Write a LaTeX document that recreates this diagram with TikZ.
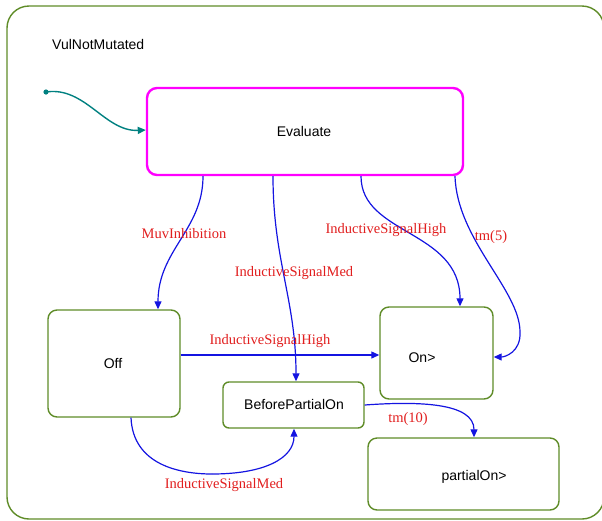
\documentclass[tikz,border=0pt]{standalone}
\usepackage{fontspec}
\setmainfont{Liberation Sans}
\newfontfamily\lblfont{Liberation Serif}
\usetikzlibrary{arrows.meta}
\definecolor{boxgreen}{RGB}{95,140,40}
\definecolor{edgeblue}{RGB}{20,20,225}
\definecolor{lblred}{RGB}{225,30,30}
\definecolor{initteal}{RGB}{0,128,128}
\definecolor{evalmag}{RGB}{255,0,255}
\tikzset{
  statebox/.style={draw=boxgreen, line width=1.4pt, rounded corners=9pt, fill=white, font=\fontsize{14}{16}\selectfont},
  trans/.style={draw=edgeblue, line width=1.2pt, -{Triangle[length=8pt,width=7pt]}},
  lbl/.style={text=lblred, font=\lblfont\fontsize{14.5}{16}\selectfont, inner sep=0pt},
}
\begin{document}
\begin{tikzpicture}[x=1pt,y=-1pt]
\useasboundingbox (0,0) rectangle (602,520);
% outer state
\draw[boxgreen, line width=1.4pt, rounded corners=22pt] (7,6) rectangle (604,519);
\node[font=\fontsize{14}{16}\selectfont, anchor=west, inner sep=0pt] (title) at (52,44) {VulNotMutated};
% states
\node[draw=evalmag, line width=2.4pt, rounded corners=10pt, fill=white, minimum width=316pt, minimum height=87pt, font=\fontsize{14}{16}\selectfont] (eval) at (305,131.5) {};
\node[font=\fontsize{14}{16}\selectfont, inner sep=0pt] (evaltxt) at (304,131) {Evaluate};
\node[statebox, minimum width=132pt, minimum height=107pt] (off) at (114,363.5) {};
\node[font=\fontsize{14}{16}\selectfont, inner sep=0pt] (offtxt) at (113,363) {Off};
\node[statebox, minimum width=113pt, minimum height=92pt] (on) at (436.5,353) {};
\node[font=\fontsize{14}{16}\selectfont, inner sep=0pt] (ontxt) at (422,358) {On>};
\node[statebox, rounded corners=6pt, minimum width=141pt, minimum height=46pt] (bpo) at (293.5,405) {};
\node[font=\fontsize{14}{16}\selectfont, inner sep=0pt] (bpotxt) at (294,404) {BeforePartialOn};
\node[statebox, minimum width=191pt, minimum height=72pt] (pon) at (463.5,474) {};
\node[font=\fontsize{14}{16}\selectfont, inner sep=0pt] (pontxt) at (474,477) {partialOn>};
% initial
\coordinate (init) at (46,92);
\fill[initteal] (init) circle (2.6pt);
\draw[initteal, line width=1.4pt, -{Triangle[length=8pt,width=7pt]}] (init) .. controls (85,86) and (105,132) .. (eval.west |- 0,130);
% transitions
\draw[trans] (eval.south -| 203,0) .. controls (203,230) and (158,250) .. (off.north -| 158,0);
\node[lbl] (l1) at (184,234) {MuvInhibition};
\draw[trans] (eval.south -| 273,0) .. controls (273,260) and (296,300) .. (bpo.north -| 296,0);
\node[lbl] (l2) at (294,273) {InductiveSignalMed};
\draw[trans] (eval.south -| 361,0) .. controls (361,235) and (460,230) .. (on.north -| 460,0);
\node[lbl] (l3) at (386,230) {InductiveSignalHigh};
\coordinate (tmbend) at (520,332);
\draw[trans] (eval.south -| 455,0) .. controls (457,240) and (520,290) .. (tmbend) .. controls (521,352) and (505,357) .. (on.east |- 0,357);
\node[lbl] (l4) at (491,237) {tm(5)};
\draw[trans] (off.east |- 0,355) -- (on.west |- 0,355);
\node[lbl] (l5) at (270,341) {InductiveSignalHigh};
\coordinate (medlow) at (212,474);
\draw[draw=edgeblue, line width=1.2pt] (off.south -| 131,0) .. controls (133,465) and (180,474) .. (medlow);
\draw[trans] (medlow) .. controls (265,474) and (294,458) .. (bpo.south -| 294,0);
\node[lbl] (l6) at (224,485) {InductiveSignalMed};
\draw[trans] (bpo.east |- 0,405) .. controls (420,401) and (474,403) .. (pon.north -| 474,0);
\node[lbl] (l7) at (408,419) {tm(10)};
\end{tikzpicture}
\end{document}
